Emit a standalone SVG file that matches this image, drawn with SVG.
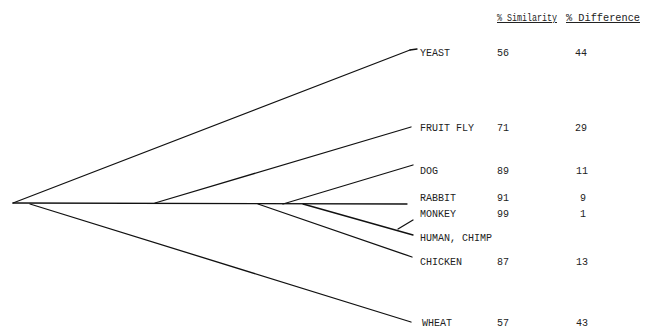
<svg xmlns="http://www.w3.org/2000/svg" width="645" height="329" viewBox="0 0 645 329">
<style>
.t{font-family:"Liberation Mono","DejaVu Sans Mono",monospace;font-size:10px;fill:#222}
.h{font-family:"Liberation Mono","DejaVu Sans Mono",monospace;font-size:10px;fill:#222;text-decoration:underline}
.e{stroke:#111;stroke-width:1.3;fill:none;stroke-linecap:round}
</style>
<rect width="645" height="329" fill="#fff"/>
<g id="connectors">
<line class="e" x1="13" y1="203" x2="410" y2="50"/>
<line class="e" x1="410" y1="50" x2="417" y2="49"/>
<line class="e" x1="13" y1="203" x2="407" y2="204"/>
<line class="e" x1="155" y1="203" x2="411" y2="127"/>
<line class="e" x1="283" y1="204" x2="413" y2="165"/>
<line class="e" x1="30" y1="204" x2="411" y2="322"/>
<line class="e" x1="258" y1="204" x2="412" y2="257"/>
<line class="e" x1="303" y1="204" x2="413" y2="235"/>
<line class="e" x1="398" y1="229" x2="413" y2="220"/>
</g>
<g id="header">
<text class="h" x="497" y="21" textLength="60" lengthAdjust="spacingAndGlyphs">% Similarity</text>
<text class="h" x="566" y="21" textLength="74" lengthAdjust="spacingAndGlyphs">% Difference</text>
</g>
<g id="yeast"><text class="t" x="420" y="56">YEAST</text><text class="t" x="497" y="56">56</text><text class="t" x="575" y="56">44</text></g>
<g id="fruitfly"><text class="t" x="420" y="131">FRUIT FLY</text><text class="t" x="497" y="131">71</text><text class="t" x="575" y="131">29</text></g>
<g id="dog"><text class="t" x="420" y="174">DOG</text><text class="t" x="497" y="174">89</text><text class="t" x="576" y="174">11</text></g>
<g id="rabbit"><text class="t" x="420" y="201">RABBIT</text><text class="t" x="497" y="201">91</text><text class="t" x="580" y="201">9</text></g>
<g id="monkey"><text class="t" x="420" y="217">MONKEY</text><text class="t" x="497" y="217">99</text><text class="t" x="580" y="217">1</text></g>
<g id="human"><text class="t" x="420" y="241">HUMAN, CHIMP</text></g>
<g id="chicken"><text class="t" x="420" y="265">CHICKEN</text><text class="t" x="497" y="265">87</text><text class="t" x="576" y="265">13</text></g>
<g id="wheat"><text class="t" x="422" y="326">WHEAT</text><text class="t" x="497" y="326">57</text><text class="t" x="576" y="326">43</text></g>
</svg>
